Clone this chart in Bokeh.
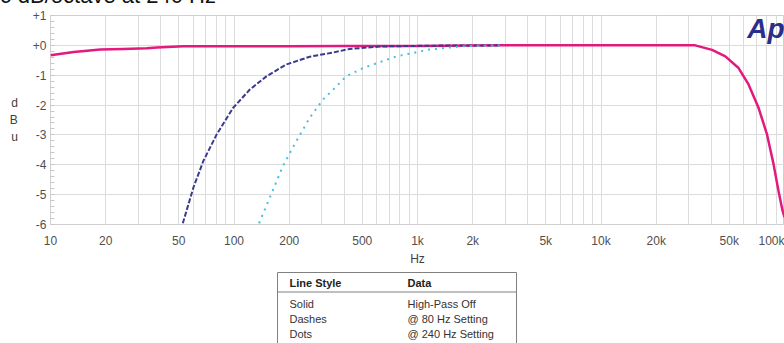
from bokeh.plotting import figure
from bokeh.models import FixedTicker, Range1d, Label
from bokeh.layouts import column
from bokeh.core.properties import value
from bokeh.embed import file_html
from bokeh.resources import INLINE

# ---- data ----
freq_solid = [10, 13.4, 18.7, 25, 33.5, 38, 53, 108, 200, 400, 1000, 2800, 10000, 20000,
              32600, 40300, 47600, 56200, 63700, 72200, 80200, 87100, 92700, 97500, 100000]
db_solid = [-0.33, -0.22, -0.14, -0.12, -0.10, -0.07, -0.03, -0.03, -0.03, -0.02, -0.02, 0.0, 0.0, 0.0,
            0.0, -0.15, -0.37, -0.76, -1.31, -2.09, -2.97, -3.97, -4.87, -5.53, -5.75]

freq_dash = [52.6, 60.1, 68.1, 80.5, 99, 122, 150.7, 193, 259, 347, 427, 621, 1162, 2800]
db_dash = [-5.96, -4.76, -3.87, -2.98, -2.09, -1.48, -1.03, -0.64, -0.38, -0.24, -0.12, -0.04, -0.01, 0.0]

freq_dot = [137, 157, 185, 219, 259, 306, 362, 410, 505, 766, 1162, 1762, 2800]
db_dot = [-5.96, -5.09, -4.03, -3.20, -2.42, -1.81, -1.37, -1.03, -0.76, -0.37, -0.14, -0.03, 0.0]

x_ticks = [10, 20, 50, 100, 200, 500, 1000, 2000, 5000, 10000, 20000, 50000, 100000]
x_tick_labels = ["10", "20", "50", "100", "200", "500", "1k", "2k", "5k", "10k", "20k", "50k", "100k"]
y_ticks = [-6, -5, -4, -3, -2, -1, 0, 1]
y_tick_labels = ["-6", "-5", "-4", "-3", "-2", "-1", "+0", "+1"]

title_text = "6 dB/octave at 240 Hz"
legend_head = ["Line Style", "Data"]
legend_styles = ["Solid", "Dashes", "Dots"]
legend_data = ["High-Pass Off", "@ 80 Hz Setting", "@ 240 Hz Setting"]

FONT = "Liberation Sans"
GRID = "#dcdcdc"

p = figure(width=784, height=295, x_axis_type="log",
           x_range=Range1d(10, 100000), y_range=Range1d(-6, 1),
           output_backend="svg", toolbar_location=None,
           min_border_left=50, min_border_right=0, min_border_top=0, min_border_bottom=44)
p.background_fill_color = "white"
p.border_fill_color = "white"
p.outline_line_color = "#cfcfcf"

# title: its upper part runs off the top of the page, as in the reference
p.title.text = title_text
p.title.align = "left"
p.title.offset = -51
p.title.standoff = 15
p.title.text_font = FONT
p.title.text_font_size = "22px"
p.title.text_font_style = "normal"
p.title.text_color = "#111111"

minor_x = [k * 10 ** d for d in range(1, 5) for k in range(1, 10)] + [100000]
p.xaxis.ticker = FixedTicker(ticks=x_ticks, minor_ticks=minor_x)
p.xaxis.major_label_overrides = dict(zip(x_ticks, x_tick_labels))
p.yaxis.ticker = FixedTicker(ticks=y_ticks, minor_ticks=[round(-6 + 0.2 * i, 2) for i in range(36)])
p.yaxis.major_label_overrides = dict(zip(y_ticks, y_tick_labels))

for ax in (p.xaxis, p.yaxis):
    ax.axis_line_color = None
    ax.major_tick_in = 0
    ax.major_tick_out = 0
    ax.major_label_text_font = FONT
    ax.major_label_text_font_size = "12px"
    ax.major_label_text_color = "#505050"
    ax.axis_label_text_font = FONT
    ax.axis_label_text_font_size = "12px"
    ax.axis_label_text_font_style = "normal"
    ax.axis_label_text_color = "#404040"

p.xaxis.minor_tick_line_color = None
p.xaxis.major_label_standoff = 5
p.xaxis.axis_label = "Hz"
p.xaxis.axis_label_standoff = 1

p.yaxis.minor_tick_in = 4
p.yaxis.minor_tick_out = 0
p.yaxis.minor_tick_line_color = "#c8c8c8"
p.yaxis.major_label_standoff = 4
p.yaxis.axis_label = "d\nB\nu"
p.yaxis.axis_label_orientation = "horizontal"
p.yaxis.axis_label_standoff = 12

p.xgrid.grid_line_color = GRID
p.xgrid.minor_grid_line_color = GRID
p.ygrid.grid_line_color = GRID

p.line(freq_solid, db_solid, line_color="#e2197e", line_width=2.5)
p.line(freq_dash, db_dash, line_color="#3a3a8e", line_width=2, line_dash="5 2")
p.line(freq_dot, db_dot, line_color="#45bfe0", line_width=2, line_dash="2 5")

p.add_layout(Label(x=100000, y=1, y_offset=-13, text="Ap", text_align="right",
                   text_baseline="alphabetic", text_font=FONT, text_font_size="28px",
                   text_font_style="bold italic", text_color="#2b2d8a"))

# ---- legend table ----
t = figure(width=784, height=75, x_range=Range1d(50, 784), y_range=Range1d(75, 0),
           output_backend="svg", toolbar_location=None,
           x_axis_location=None, y_axis_location=None,
           min_border_left=50, min_border_right=0, min_border_top=0, min_border_bottom=0)
t.grid.visible = False
t.outline_line_color = None
t.quad(left=[277], right=[516], top=[4], bottom=[95], fill_color=None, line_color="#808080", line_width=1)
t.segment(x0=[277], y0=[23.5], x1=[516], y1=[23.5], line_color="#808080", line_width=1)
t.text(x=[289, 407], y=[14.5, 14.5], text=legend_head, text_font=value(FONT), text_font_size="11px",
       text_font_style="bold", text_baseline="middle", text_color="#222222")
rows_y = [35, 50, 65]
t.text(x=[289] * 3, y=rows_y, text=legend_styles, text_font=value(FONT), text_font_size="11px",
       text_baseline="middle", text_color="#333333")
t.text(x=[407] * 3, y=rows_y, text=legend_data, text_font=value(FONT), text_font_size="11px",
       text_baseline="middle", text_color="#333333")

root = column(p, t, spacing=0, styles={"margin-top": "-27px"})

open("out.html", "w").write(file_html(root, INLINE))
